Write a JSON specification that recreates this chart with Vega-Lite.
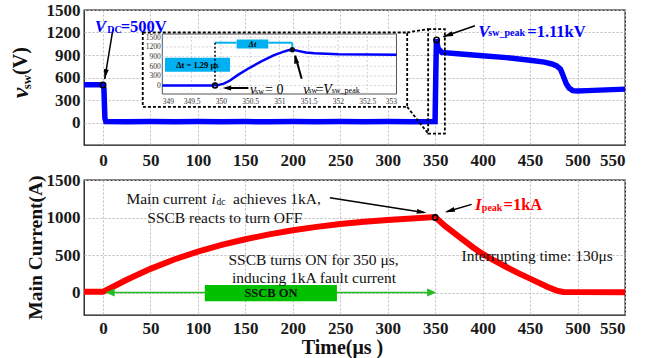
{
  "$schema": "https://vega.github.io/schema/vega-lite/v6.json",
  "padding": {"left": 7, "top": 0, "right": 0, "bottom": 0},
  "background": "white",
  "spacing": 35,
  "bounds": "flush",
  "config": {
    "view": {"stroke": "#111", "strokeWidth": 1.3},
    "font": "Liberation Serif",
    "text": {"font": "Liberation Serif"},
    "axis": {
      "labelFont": "Liberation Serif", "labelFontSize": 17, "labelFontWeight": "bold", "labelColor": "#1a1a1a",
      "labelOverlap": false, "format": "d", "tickCount": 20,
      "ticks": false, "domain": false, "grid": true, "gridColor": "#bdbdbd", "gridDash": [2, 2], "gridWidth": 1,
      "titleFont": "Liberation Serif", "titleFontWeight": "bold", "titleColor": "#111"
    }
  },
  "vconcat": [
    {
      "width": 541, "height": 135,
      "resolve": {"scale": {"x": "independent", "y": "independent"}, "axis": {"x": "independent", "y": "independent"}},
      "layer": [
        {
          "layer": [
            {
              "data": {"values": [
                {"t": -20, "v": 505}, {"t": -10, "v": 505}, {"t": 0, "v": 503}, {"t": 1, "v": 450}, {"t": 2, "v": 60}, {"t": 3, "v": 12},
                {"t": 25, "v": 10}, {"t": 50, "v": 12}, {"t": 75, "v": 10}, {"t": 100, "v": 12}, {"t": 125, "v": 10}, {"t": 150, "v": 12},
                {"t": 175, "v": 10}, {"t": 200, "v": 12}, {"t": 225, "v": 10}, {"t": 250, "v": 12}, {"t": 275, "v": 10}, {"t": 300, "v": 12},
                {"t": 325, "v": 10}, {"t": 349.9, "v": 12}, {"t": 350.6, "v": 600}, {"t": 351.3, "v": 1110}, {"t": 353, "v": 990},
                {"t": 357, "v": 935}, {"t": 380, "v": 910}, {"t": 400, "v": 890}, {"t": 425, "v": 865}, {"t": 450, "v": 830},
                {"t": 465, "v": 805}, {"t": 473, "v": 780}, {"t": 478, "v": 755}, {"t": 482, "v": 710}, {"t": 485, "v": 620},
                {"t": 488, "v": 520}, {"t": 491, "v": 460}, {"t": 495, "v": 425}, {"t": 500, "v": 420}, {"t": 510, "v": 425},
                {"t": 530, "v": 435}, {"t": 550, "v": 445}
              ]},
              "mark": {"type": "line", "color": "#0000ff", "strokeWidth": 5.5},
              "encoding": {
                "x": {"field": "t", "type": "quantitative", "scale": {"domain": [-20, 550], "nice": false, "zero": false},
                      "axis": {"values": [0, 50, 100, 150, 200, 250, 300, 350, 400, 450, 500, 550], "title": null, "labelPadding": 7, "labelOverlap": false, "tickCount": 20}},
                "y": {"field": "v", "type": "quantitative", "scale": {"domain": [-300, 1500], "nice": false, "zero": false},
                      "axis": {"values": [0, 300, 600, 900, 1200, 1500], "title": null, "labelPadding": 4, "labelOverlap": false, "tickCount": 20}}
              }
            },
            {
              "data": {"values": [{"x": 41.9, "x2": 320.5, "y": 209, "y2": 1200}]},
              "mark": {"type": "rect", "fill": "white", "stroke": "#000", "strokeWidth": 1.8, "strokeDash": [3, 2]},
              "encoding": {"x": {"field": "x", "type": "quantitative"}, "x2": {"field": "x2"}, "y": {"field": "y", "type": "quantitative"}, "y2": {"field": "y2"}}
            },
            {
              "data": {"values": [{"x": 342.6, "x2": 360.2, "y": -147, "y2": 1245}]},
              "mark": {"type": "rect", "fill": null, "fillOpacity": 0, "stroke": "#000", "strokeWidth": 1.8, "strokeDash": [3, 2]},
              "encoding": {"x": {"field": "x", "type": "quantitative"}, "x2": {"field": "x2"}, "y": {"field": "y", "type": "quantitative"}, "y2": {"field": "y2"}}
            },
            {
              "data": {"values": [{"x": 320.5, "y": 1200, "x2": 342.6, "y2": 1245}, {"x": 320.5, "y": 209, "x2": 342.6, "y2": -147}]},
              "mark": {"type": "rule", "color": "#000", "strokeWidth": 1.8, "strokeDash": [3, 2]},
              "encoding": {"x": {"field": "x", "type": "quantitative"}, "x2": {"field": "x2"}, "y": {"field": "y", "type": "quantitative"}, "y2": {"field": "y2"}}
            },
            {
              "data": {"values": [{"x": 0, "y": 500}, {"x": 351.5, "y": 1100}]},
              "mark": {"type": "point", "shape": "circle", "filled": false, "color": "#000", "strokeWidth": 1.6, "size": 30, "opacity": 1},
              "encoding": {"x": {"field": "x", "type": "quantitative"}, "y": {"field": "y", "type": "quantitative"}}
            },
            {
              "data": {"values": [{"x": 10.5, "y": 1245, "x2": 1.8, "y2": 579}, {"x": 391.9, "y": 1289, "x2": 358.5, "y2": 1143}]},
              "mark": {"type": "rule", "color": "#000", "strokeWidth": 1.5},
              "encoding": {"x": {"field": "x", "type": "quantitative"}, "x2": {"field": "x2"}, "y": {"field": "y", "type": "quantitative"}, "y2": {"field": "y2"}}
            },
            {
              "data": {"values": [{"x": 1.8, "y": 579}]},
              "mark": {"type": "point", "shape": "M0,0L0.45,1.8L-0.45,1.8Z", "filled": true, "color": "#000", "opacity": 1, "size": 120, "angle": 189.4},
              "encoding": {"x": {"field": "x", "type": "quantitative"}, "y": {"field": "y", "type": "quantitative"}}
            },
            {
              "data": {"values": [{"x": 358.5, "y": 1143}]},
              "mark": {"type": "point", "shape": "M0,0L0.45,1.8L-0.45,1.8Z", "filled": true, "color": "#000", "opacity": 1, "size": 120, "angle": 250.9},
              "encoding": {"x": {"field": "x", "type": "quantitative"}, "y": {"field": "y", "type": "quantitative"}}
            },
            {
              "data": {"values": [{"x": -8.8, "y": 1267, "s": "V"}, {"x": 395.3, "y": 1213, "s": "V"}]},
              "mark": {"type": "text", "align": "left", "fontSize": 17, "fontStyle": "italic", "fontWeight": "bold", "color": "#0000ff"},
              "encoding": {"x": {"field": "x", "type": "quantitative"}, "y": {"field": "y", "type": "quantitative"}, "text": {"field": "s"}}
            },
            {
              "data": {"values": [{"x": 4.6, "y": 1232, "s": "DC"}, {"x": 406, "y": 1192, "s": "sw_peak"}]},
              "mark": {"type": "text", "align": "left", "fontSize": 10, "fontWeight": "bold", "color": "#0000ff"},
              "encoding": {"x": {"field": "x", "type": "quantitative"}, "y": {"field": "y", "type": "quantitative"}, "text": {"field": "s"}}
            },
            {
              "data": {"values": [{"x": 18.6, "y": 1267, "s": "=500V"}, {"x": 447, "y": 1213, "s": "=1.11kV"}]},
              "mark": {"type": "text", "align": "left", "fontSize": 16.5, "fontWeight": "bold", "color": "#0000ff"},
              "encoding": {"x": {"field": "x", "type": "quantitative"}, "y": {"field": "y", "type": "quantitative"}, "text": {"field": "s"}}
            },
            {
              "data": {"values": [{"x": -86.8, "y": 396, "s": "v"}]},
              "mark": {"type": "text", "align": "center", "baseline": "middle", "angle": 270, "fontSize": 24, "fontStyle": "italic", "fontWeight": "bold", "color": "#111"},
              "encoding": {"x": {"field": "x", "type": "quantitative"}, "y": {"field": "y", "type": "quantitative"}, "text": {"field": "s"}}
            },
            {
              "data": {"values": [{"x": -80.0, "y": 540, "s": "sw"}]},
              "mark": {"type": "text", "align": "center", "baseline": "middle", "angle": 270, "fontSize": 13, "fontWeight": "bold", "color": "#111"},
              "encoding": {"x": {"field": "x", "type": "quantitative"}, "y": {"field": "y", "type": "quantitative"}, "text": {"field": "s"}}
            },
            {
              "data": {"values": [{"x": -86.8, "y": 820, "s": "(V)"}]},
              "mark": {"type": "text", "align": "center", "baseline": "middle", "angle": 270, "fontSize": 20, "fontWeight": "bold", "color": "#111"},
              "encoding": {"x": {"field": "x", "type": "quantitative"}, "y": {"field": "y", "type": "quantitative"}, "text": {"field": "s"}}
            }
          ]
        },
        {
          "layer": [
            {
              "data": {"values": [{"x": 349, "x2": 353, "y": -260, "y2": 1600}]},
              "mark": {"type": "rect", "fill": "white", "stroke": "#555", "strokeWidth": 1},
              "encoding": {
                "x": {"field": "x", "type": "quantitative", "scale": {"domain": [349, 353], "range": [78.3, 312.5], "nice": false, "zero": false},
                      "axis": {"orient": "bottom", "offset": -51, "values": [349, 349.5, 350, 350.5, 351, 351.5, 352, 352.5, 353], "format": "~g", "labelOverlap": false, "tickCount": 20,
                               "title": null, "grid": false, "labelFontSize": 7.5, "labelFontWeight": "normal", "labelColor": "#333", "labelPadding": 3, "zindex": 1}},
                "x2": {"field": "x2"},
                "y": {"field": "y", "type": "quantitative", "scale": {"domain": [-260, 1600], "range": [84, 24], "nice": false, "zero": false},
                      "axis": {"orient": "left", "offset": -78.3, "values": [0, 300, 600, 900, 1200, 1500], "labelOverlap": false, "tickCount": 20,
                               "title": null, "grid": false, "labelFontSize": 7.5, "labelFontWeight": "normal", "labelColor": "#333", "labelPadding": 2, "zindex": 1}},
                "y2": {"field": "y2"}
              }
            },
            {
              "data": {"values": [{"x": 349.5}, {"x": 350}, {"x": 350.5}, {"x": 351}, {"x": 351.5}, {"x": 352}, {"x": 352.5}]},
              "mark": {"type": "rule", "color": "#c8c8c8", "strokeWidth": 0.8, "strokeDash": [2, 2]},
              "encoding": {"x": {"field": "x", "type": "quantitative"}, "y": {"datum": -260}, "y2": {"datum": 1600}}
            },
            {
              "data": {"values": [{"y": 0}, {"y": 300}, {"y": 600}, {"y": 900}, {"y": 1200}, {"y": 1500}]},
              "mark": {"type": "rule", "color": "#c8c8c8", "strokeWidth": 0.8, "strokeDash": [2, 2]},
              "encoding": {"y": {"field": "y", "type": "quantitative"}, "x": {"datum": 349}, "x2": {"datum": 353}}
            },
            {
              "data": {"values": [
                {"t": 349, "v": 5}, {"t": 349.5, "v": 5}, {"t": 349.85, "v": 5}, {"t": 349.95, "v": 15}, {"t": 350.05, "v": 60},
                {"t": 350.15, "v": 150}, {"t": 350.3, "v": 340}, {"t": 350.5, "v": 560}, {"t": 350.7, "v": 760}, {"t": 350.9, "v": 940},
                {"t": 351.05, "v": 1040}, {"t": 351.15, "v": 1095}, {"t": 351.22, "v": 1110}, {"t": 351.3, "v": 1085}, {"t": 351.45, "v": 1030},
                {"t": 351.6, "v": 1005}, {"t": 352, "v": 975}, {"t": 352.5, "v": 962}, {"t": 353, "v": 955}
              ]},
              "mark": {"type": "line", "color": "#0000ff", "strokeWidth": 2.5},
              "encoding": {"x": {"field": "t", "type": "quantitative"}, "y": {"field": "v", "type": "quantitative"}}
            },
            {
              "data": {"values": [{"x": 350.27, "x2": 350.81, "y": 1153, "y2": 1432}, {"x": 349.046, "x2": 350.157, "y": 431, "y2": 865}]},
              "mark": {"type": "rect", "fill": "#00b0f0"},
              "encoding": {"x": {"field": "x", "type": "quantitative"}, "x2": {"field": "x2"}, "y": {"field": "y", "type": "quantitative"}, "y2": {"field": "y2"}}
            },
            {
              "data": {"values": [{"x": 349.9, "y": 1330, "x2": 350.27, "y2": 1330}, {"x": 350.81, "y": 1330, "x2": 351.22, "y2": 1330}, {"x": 351.22, "y": 1330, "x2": 351.22, "y2": 1150}]},
              "mark": {"type": "rule", "color": "#00b0f0", "strokeWidth": 2},
              "encoding": {"x": {"field": "x", "type": "quantitative"}, "x2": {"field": "x2"}, "y": {"field": "y", "type": "quantitative"}, "y2": {"field": "y2"}}
            },
            {
              "data": {"values": [{"x": 349.9, "y": 1330, "y2": 30}]},
              "mark": {"type": "rule", "color": "#000", "strokeWidth": 1.5, "strokeDash": [2, 2]},
              "encoding": {"x": {"field": "x", "type": "quantitative"}, "y": {"field": "y", "type": "quantitative"}, "y2": {"field": "y2"}}
            },
            {
              "data": {"values": [{"x": 350.54, "y": 1292, "s": "Δt"}]},
              "mark": {"type": "text", "align": "center", "baseline": "middle", "fontSize": 8.5, "fontStyle": "italic", "fontWeight": "bold", "color": "#000"},
              "encoding": {"x": {"field": "x", "type": "quantitative"}, "y": {"field": "y", "type": "quantitative"}, "text": {"field": "s"}}
            },
            {
              "data": {"values": [{"x": 349.6, "y": 648, "s": "Δt = 1.29 μs"}]},
              "mark": {"type": "text", "align": "center", "baseline": "middle", "fontSize": 8.5, "fontWeight": "bold", "color": "#000"},
              "encoding": {"x": {"field": "x", "type": "quantitative"}, "y": {"field": "y", "type": "quantitative"}, "text": {"field": "s"}}
            },
            {
              "data": {"values": [{"x": 349.9, "y": 0}]},
              "mark": {"type": "point", "shape": "circle", "filled": false, "color": "#000", "strokeWidth": 1.5, "size": 25, "opacity": 1},
              "encoding": {"x": {"field": "x", "type": "quantitative"}, "y": {"field": "y", "type": "quantitative"}}
            },
            {
              "data": {"values": [{"x": 351.22, "y": 1110}]},
              "mark": {"type": "point", "shape": "circle", "filled": true, "color": "#111", "size": 30, "opacity": 1},
              "encoding": {"x": {"field": "x", "type": "quantitative"}, "y": {"field": "y", "type": "quantitative"}}
            },
            {
              "data": {"values": [{"x": 350.47, "y": -74, "x2": 350.08, "y2": -74}, {"x": 351.38, "y": 210, "x2": 351.27, "y2": 930}]},
              "mark": {"type": "rule", "color": "#000", "strokeWidth": 2},
              "encoding": {"x": {"field": "x", "type": "quantitative"}, "x2": {"field": "x2"}, "y": {"field": "y", "type": "quantitative"}, "y2": {"field": "y2"}}
            },
            {
              "data": {"values": [{"x": 350.03, "y": -74}]},
              "mark": {"type": "point", "shape": "M0,0L0.55,1.8L-0.55,1.8Z", "filled": true, "color": "#000", "opacity": 1, "size": 90, "angle": 270},
              "encoding": {"x": {"field": "x", "type": "quantitative"}, "y": {"field": "y", "type": "quantitative"}}
            },
            {
              "data": {"values": [{"x": 351.255, "y": 949}]},
              "mark": {"type": "point", "shape": "M0,0L0.55,1.8L-0.55,1.8Z", "filled": true, "color": "#000", "opacity": 1, "size": 90, "angle": 343.5},
              "encoding": {"x": {"field": "x", "type": "quantitative"}, "y": {"field": "y", "type": "quantitative"}}
            },
            {
              "data": {"values": [{"x": 350.498, "y": -136, "s": "v"}, {"x": 351.408, "y": -140, "s": "v"}, {"x": 351.75, "y": -140, "s": "V"}]},
              "mark": {"type": "text", "align": "left", "fontSize": 14, "fontStyle": "italic", "color": "#000"},
              "encoding": {"x": {"field": "x", "type": "quantitative"}, "y": {"field": "y", "type": "quantitative"}, "text": {"field": "s"}}
            },
            {
              "data": {"values": [{"x": 350.754, "y": -136, "s": "= 0"}, {"x": 351.62, "y": -140, "s": "="}]},
              "mark": {"type": "text", "align": "left", "fontSize": 14, "color": "#000"},
              "encoding": {"x": {"field": "x", "type": "quantitative"}, "y": {"field": "y", "type": "quantitative"}, "text": {"field": "s"}}
            },
            {
              "data": {"values": [{"x": 350.584, "y": -189, "s": "sw"}, {"x": 351.494, "y": -172, "s": "sw"}, {"x": 351.893, "y": -172, "s": "sw_peak"}]},
              "mark": {"type": "text", "align": "left", "fontSize": 8, "color": "#000"},
              "encoding": {"x": {"field": "x", "type": "quantitative"}, "y": {"field": "y", "type": "quantitative"}, "text": {"field": "s"}}
            }
          ]
        }
      ]
    },
    {
      "width": 541, "height": 135,
      "layer": [
        {
          "data": {"values": [
            {"t": -20, "i": 10}, {"t": 0, "i": 10}, {"t": 5, "i": 40}, {"t": 25, "i": 170}, {"t": 50, "i": 315}, {"t": 75, "i": 440},
            {"t": 100, "i": 545}, {"t": 125, "i": 635}, {"t": 150, "i": 710}, {"t": 175, "i": 775}, {"t": 200, "i": 830}, {"t": 225, "i": 875},
            {"t": 250, "i": 912}, {"t": 275, "i": 943}, {"t": 300, "i": 968}, {"t": 325, "i": 988}, {"t": 350, "i": 1005}, {"t": 360, "i": 890},
            {"t": 376, "i": 735}, {"t": 390, "i": 600}, {"t": 400, "i": 515}, {"t": 410, "i": 440}, {"t": 425, "i": 340}, {"t": 437, "i": 262},
            {"t": 450, "i": 185}, {"t": 468, "i": 77}, {"t": 478, "i": 25}, {"t": 485, "i": 8},
            {"t": 500, "i": 5}, {"t": 550, "i": 5}
          ]},
          "mark": {"type": "line", "color": "#ff0000", "strokeWidth": 6},
          "encoding": {
            "x": {"field": "t", "type": "quantitative", "scale": {"domain": [-20, 550], "nice": false, "zero": false},
                  "axis": {"values": [0, 50, 100, 150, 200, 250, 300, 350, 400, 450, 500, 550], "title": "Time(μs )", "labelPadding": 5, "labelOverlap": false, "tickCount": 20,
                           "titleFontSize": 20, "titleX": 258, "titleY": 32, "titleBaseline": "middle"}},
            "y": {"field": "i", "type": "quantitative", "scale": {"domain": [-300, 1500], "nice": false, "zero": false},
                  "axis": {"values": [0, 500, 1000, 1500], "title": "Main Current(A)", "labelPadding": 4, "labelOverlap": false, "tickCount": 20,
                           "titleFontSize": 19.5, "titleX": -49, "titleY": 67, "titleBaseline": "middle"}}
          }
        },
        {
          "data": {"values": [{"x": 5, "x2": 348, "y": 0}]},
          "mark": {"type": "rule", "color": "#22bb22", "strokeWidth": 1.6},
          "encoding": {"x": {"field": "x", "type": "quantitative"}, "x2": {"field": "x2"}, "y": {"field": "y", "type": "quantitative"}}
        },
        {
          "data": {"values": [{"x": 2.8, "y": 0}]},
          "mark": {"type": "point", "shape": "M0,0L0.8,1.8L-0.8,1.8Z", "filled": true, "color": "#22bb22", "opacity": 1, "size": 100, "angle": 270},
          "encoding": {"x": {"field": "x", "type": "quantitative"}, "y": {"field": "y", "type": "quantitative"}}
        },
        {
          "data": {"values": [{"x": 351, "y": 0}]},
          "mark": {"type": "point", "shape": "M0,0L0.8,1.8L-0.8,1.8Z", "filled": true, "color": "#22bb22", "opacity": 1, "size": 100, "angle": 90},
          "encoding": {"x": {"field": "x", "type": "quantitative"}, "y": {"field": "y", "type": "quantitative"}}
        },
        {
          "data": {"values": [{"x": 107.3, "x2": 246.5, "y": -115, "y2": 100}]},
          "mark": {"type": "rect", "fill": "#00c000"},
          "encoding": {"x": {"field": "x", "type": "quantitative"}, "x2": {"field": "x2"}, "y": {"field": "y", "type": "quantitative"}, "y2": {"field": "y2"}}
        },
        {
          "data": {"values": [{"x": 177, "y": -5, "s": "SSCB ON"}]},
          "mark": {"type": "text", "align": "center", "baseline": "middle", "fontSize": 12.5, "fontWeight": "bold", "color": "#111"},
          "encoding": {"x": {"field": "x", "type": "quantitative"}, "y": {"field": "y", "type": "quantitative"}, "text": {"field": "s"}}
        },
        {
          "data": {"values": [{"x": 350, "y": 1000}]},
          "mark": {"type": "point", "shape": "circle", "filled": false, "color": "#000", "strokeWidth": 1.6, "size": 28, "opacity": 1},
          "encoding": {"x": {"field": "x", "type": "quantitative"}, "y": {"field": "y", "type": "quantitative"}}
        },
        {
          "data": {"values": [{"x": 239, "y": 1263, "x2": 338, "y2": 1068}, {"x": 388.4, "y": 1175, "x2": 362, "y2": 1077}]},
          "mark": {"type": "rule", "color": "#000", "strokeWidth": 1.5},
          "encoding": {"x": {"field": "x", "type": "quantitative"}, "x2": {"field": "x2"}, "y": {"field": "y", "type": "quantitative"}, "y2": {"field": "y2"}}
        },
        {
          "data": {"values": [{"x": 341, "y": 1062}]},
          "mark": {"type": "point", "shape": "M0,0L0.45,1.8L-0.45,1.8Z", "filled": true, "color": "#000", "opacity": 1, "size": 120, "angle": 98.8},
          "encoding": {"x": {"field": "x", "type": "quantitative"}, "y": {"field": "y", "type": "quantitative"}}
        },
        {
          "data": {"values": [{"x": 360.3, "y": 1071}]},
          "mark": {"type": "point", "shape": "M0,0L0.45,1.8L-0.45,1.8Z", "filled": true, "color": "#000", "opacity": 1, "size": 120, "angle": 253.9},
          "encoding": {"x": {"field": "x", "type": "quantitative"}, "y": {"field": "y", "type": "quantitative"}}
        },
        {
          "data": {"values": [{"x": 24.7, "y": 1242, "s": "Main current"}, {"x": 137.1, "y": 1242, "s": "achieves 1kA,"}]},
          "mark": {"type": "text", "align": "left", "fontSize": 15.5, "color": "#111"},
          "encoding": {"x": {"field": "x", "type": "quantitative"}, "y": {"field": "y", "type": "quantitative"}, "text": {"field": "s"}}
        },
        {
          "data": {"values": [{"x": 114.3, "y": 1242, "s": "i"}]},
          "mark": {"type": "text", "align": "left", "fontSize": 15.5, "fontStyle": "italic", "color": "#111"},
          "encoding": {"x": {"field": "x", "type": "quantitative"}, "y": {"field": "y", "type": "quantitative"}, "text": {"field": "s"}}
        },
        {
          "data": {"values": [{"x": 119.6, "y": 1206, "s": "dc"}]},
          "mark": {"type": "text", "align": "left", "fontSize": 9.5, "color": "#111"},
          "encoding": {"x": {"field": "x", "type": "quantitative"}, "y": {"field": "y", "type": "quantitative"}, "text": {"field": "s"}}
        },
        {
          "data": {"values": [
            {"x": 128.3, "y": 995, "s": "SSCB reacts to turn OFF"},
            {"x": 221.9, "y": 435, "s": "SSCB turns ON for 350 μs,"},
            {"x": 222.3, "y": 198, "s": "inducing 1kA fault current"},
            {"x": 457.5, "y": 493, "s": "Interrupting time: 130μs"}
          ]},
          "mark": {"type": "text", "align": "center", "fontSize": 15.5, "color": "#111"},
          "encoding": {"x": {"field": "x", "type": "quantitative"}, "y": {"field": "y", "type": "quantitative"}, "text": {"field": "s"}}
        },
        {
          "data": {"values": [{"x": 392, "y": 1161, "s": "I"}]},
          "mark": {"type": "text", "align": "left", "fontSize": 17, "fontStyle": "italic", "fontWeight": "bold", "color": "#ff0000"},
          "encoding": {"x": {"field": "x", "type": "quantitative"}, "y": {"field": "y", "type": "quantitative"}, "text": {"field": "s"}}
        },
        {
          "data": {"values": [{"x": 399.2, "y": 1129, "s": "peak"}]},
          "mark": {"type": "text", "align": "left", "fontSize": 10, "fontWeight": "bold", "color": "#ff0000"},
          "encoding": {"x": {"field": "x", "type": "quantitative"}, "y": {"field": "y", "type": "quantitative"}, "text": {"field": "s"}}
        },
        {
          "data": {"values": [{"x": 422, "y": 1161, "s": "=1kA"}]},
          "mark": {"type": "text", "align": "left", "fontSize": 16.5, "fontWeight": "bold", "color": "#ff0000"},
          "encoding": {"x": {"field": "x", "type": "quantitative"}, "y": {"field": "y", "type": "quantitative"}, "text": {"field": "s"}}
        }
      ]
    }
  ]
}
